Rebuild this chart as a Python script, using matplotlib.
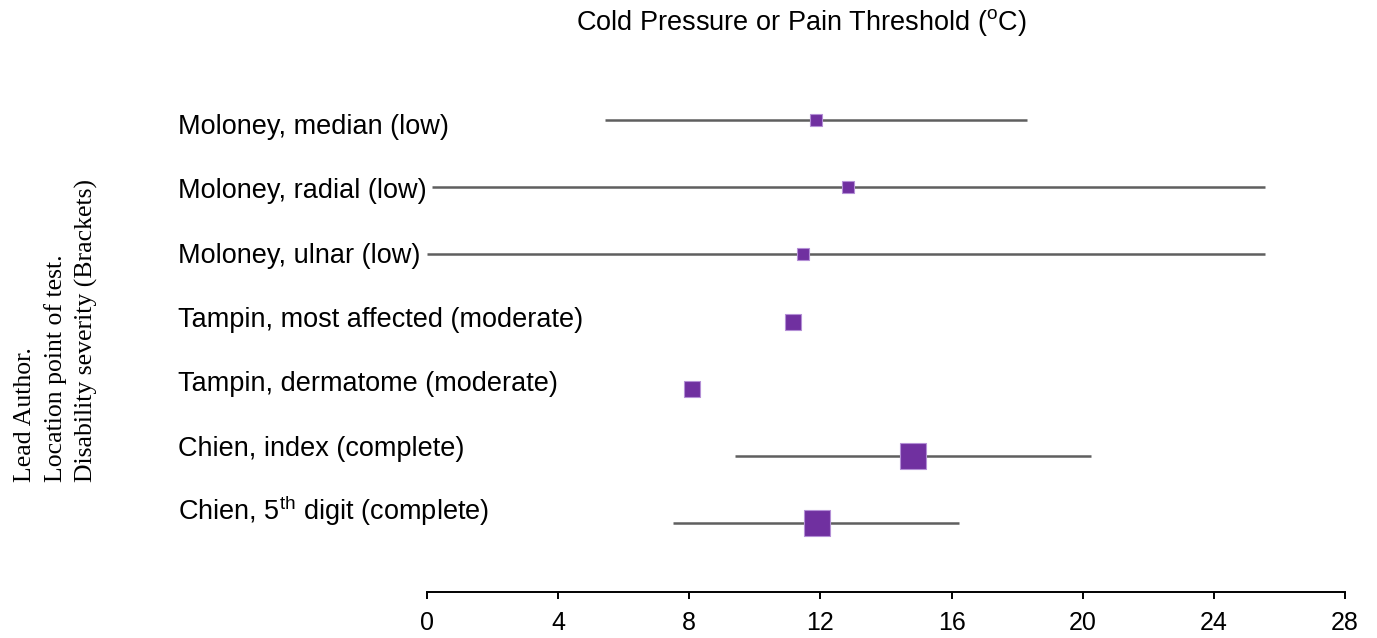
import numpy as np
import matplotlib
matplotlib.use("Agg")
from matplotlib import pyplot as plt

## Data
labels = ["Moloney, median (low)",
          "Moloney, radial (low)",
          "Moloney, ulnar (low)",
          "Tampin, most affected (moderate)",
          "Tampin, dermatome (moderate)",
          "Chien, index (complete)",
          "Chien, 5$^{\\mathregular{th}}$ digit (complete)"]
means = [11.86, 12.84, 11.46, 11.16, 8.08, 14.82, 11.89]
lower = [5.43, 0.15, 0.0, np.nan, np.nan, 9.39, 7.50]
upper = [18.30, 25.55, 25.55, np.nan, np.nan, 20.24, 16.22]
weights = [8.6, 8.6, 8.6, 11.5, 11.5, 18.7, 18.7]   # marker size
ticks = [0, 4, 8, 12, 16, 20, 24, 28]

plt.rcParams['font.family'] = ['Liberation Sans', 'DejaVu Sans']

W, H = 1377, 638
fig = plt.figure(figsize=(W/100, H/100), dpi=100)
ax = fig.add_axes([427/W, (H-592)/H, (1345-427)/W, (592-90)/H])

n = len(labels)
ypos = np.arange(n)[::-1] + 1

for y, m, lo, hi, s in zip(ypos, means, lower, upper, weights):
    if not np.isnan(lo):
        ax.plot([lo, hi], [y, y], color='#5f5f5f', lw=1.8, solid_capstyle='butt', zorder=1)
    ax.plot(m, y, marker='s', ms=s, color='#7030A0', mec='#b48fd6', mew=0.8, zorder=2)

# row labels sit on their own slightly tighter grid
for i, lab in enumerate(labels):
    fig.text(178/W, 1 - (134 + i*64.3)/H, lab, ha='left', va='baseline',
             fontsize=19.5, color='black')

ax.set_xlim(0, 28)
ax.set_ylim(-0.03, 7.45)
ax.set_yticks([])
for sp in ['left', 'right', 'top']:
    ax.spines[sp].set_visible(False)
ax.spines['bottom'].set_linewidth(1.4)
ax.set_xticks(ticks)
ax.tick_params(axis='x', length=5, width=1.4, pad=9, labelsize=18)

fig.text(801/W, 1 - 22/H, "Cold Pressure or Pain Threshold ($^{\\mathregular{o}}$C)",
         ha='center', va='center', fontsize=19.5)
fig.text(56/W, 1 - 482/H,
         "Lead Author.\nLocation point of test.\nDisability severity (Brackets)",
         rotation=90, ha='center', va='bottom', multialignment='left',
         fontsize=18.5, family=['Liberation Serif', 'DejaVu Serif'],
         linespacing=1.45)

fig.savefig("out.png", dpi=100)
